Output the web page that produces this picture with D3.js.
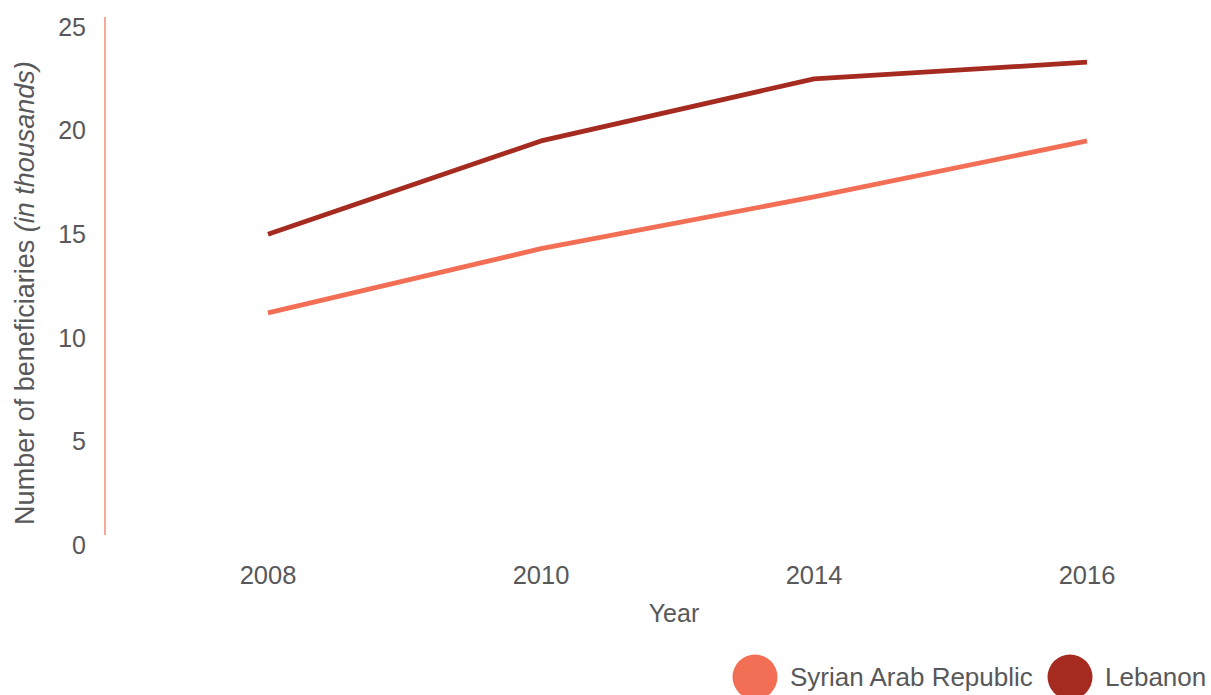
<!DOCTYPE html>
<html>
<head>
<meta charset="utf-8">
<script src="https://cdn.jsdelivr.net/npm/d3@7"></script>
<style>
  html, body { margin: 0; padding: 0; background: #fff; }
  svg { display: block; }
  text { font-family: "Liberation Sans", Arial, sans-serif; fill: #58585a; }
</style>
</head>
<body>
<svg id="chart" width="1211" height="695"></svg>
<script>
const years = ["2008", "2010", "2014", "2016"];
const syria = [11.2, 14.3, 16.8, 19.5];
const lebanon = [15.0, 19.5, 22.5, 23.3];
const seriesNames = ["Syrian Arab Republic", "Lebanon"];
const seriesColors = ["#f26f55", "#a52a1f"];
const yTicks = [0, 5, 10, 15, 20, 25];

const svg = d3.select("#chart");
const x = d3.scalePoint().domain(years).range([268, 1087]);
const y = d3.scaleLinear().domain([0, 25]).range([545, 27]);

// axis line (vertical) drawn slightly above the tick label positions
svg.append("line")
  .attr("x1", 105).attr("x2", 105)
  .attr("y1", y(25) - 10).attr("y2", y(0) - 10)
  .attr("stroke", "#f26f55").attr("stroke-width", 1.2);

// y tick labels
svg.append("g").selectAll("text").data(yTicks).join("text")
  .attr("x", 86).attr("y", d => y(d))
  .attr("dy", "0.35em")
  .attr("text-anchor", "end")
  .attr("font-size", 25)
  .text(d => d);

// x tick labels
svg.append("g").selectAll("text").data(years).join("text")
  .attr("x", d => x(d)).attr("y", 575)
  .attr("dy", "0.35em")
  .attr("text-anchor", "middle")
  .attr("font-size", 25.5)
  .text(d => d);

// axis titles
svg.append("text")
  .attr("x", 674).attr("y", 613).attr("dy", "0.35em")
  .attr("text-anchor", "middle").attr("font-size", 25)
  .text("Year");

const yt = svg.append("text")
  .attr("transform", "translate(25,293) rotate(-90)")
  .attr("dy", "0.35em")
  .attr("text-anchor", "middle").attr("font-size", 27);
yt.append("tspan").text("Number of beneficiaries ");
yt.append("tspan").attr("font-style", "italic").text("(in thousands)");

// lines
const line = d3.line().x((d, i) => x(years[i])).y(d => y(d));
[syria, lebanon].forEach((s, k) => {
  svg.append("path").datum(s)
    .attr("d", line)
    .attr("fill", "none")
    .attr("stroke", seriesColors[k])
    .attr("stroke-width", 4.8)
    .attr("stroke-linejoin", "round");
});

// legend
const legendX = [755, 1070];
seriesNames.forEach((n, k) => {
  svg.append("circle").attr("cx", legendX[k]).attr("cy", 677).attr("r", 22.5)
    .attr("fill", seriesColors[k]);
  svg.append("text").attr("x", legendX[k] + 35).attr("y", 677).attr("dy", "0.35em")
    .attr("font-size", 26).text(n);
});
</script>
</body>
</html>
